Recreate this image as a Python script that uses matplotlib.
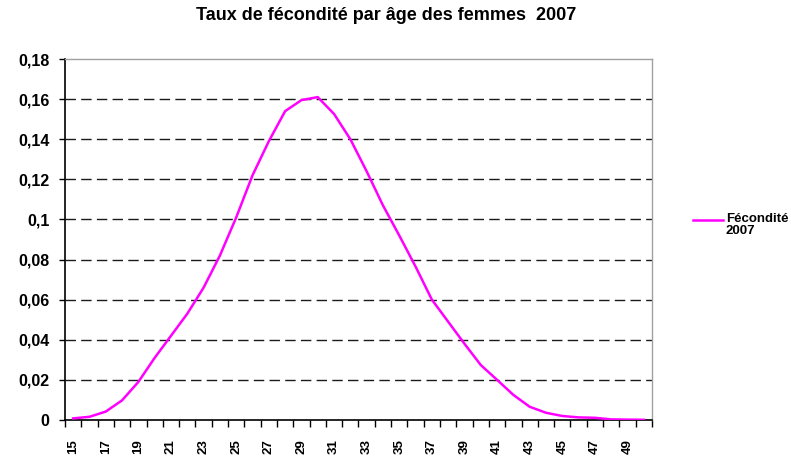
import matplotlib
matplotlib.use("Agg")
import matplotlib.pyplot as plt
import numpy as np

ages = list(range(15, 51))
fecondite_2007 = [0.0008, 0.0016, 0.0042, 0.0098, 0.019, 0.031, 0.042, 0.053,
                  0.066, 0.082, 0.101, 0.122, 0.139, 0.154, 0.1595, 0.161,
                  0.1526, 0.140, 0.124, 0.107, 0.092, 0.0765, 0.060, 0.049,
                  0.038, 0.0274, 0.020, 0.0125, 0.0066, 0.0036, 0.002, 0.0013,
                  0.0011, 0.0003, 0.0002, 0.0001]
y_ticks = [0, 0.02, 0.04, 0.06, 0.08, 0.1, 0.12, 0.14, 0.16, 0.18]
y_labels = ["0", "0,02", "0,04", "0,06", "0,08", "0,1", "0,12", "0,14", "0,16", "0,18"]
title = "Taux de fécondité par âge des femmes  2007"
legend_label = "Fécondité\n2007"

plt.rcParams["font.family"] = ["Liberation Sans", "DejaVu Sans"]
plt.rcParams["font.weight"] = "bold"

fig = plt.figure(figsize=(7.91, 4.58), dpi=100)
W, H = 791, 458
ax = fig.add_axes([65 / W, (H - 420) / H, 587 / W, 361 / H])

n = len(ages)
xpos = np.arange(n)
ax.plot(xpos, fecondite_2007, color="#FF00FF", lw=1.8,
        solid_joinstyle="round", zorder=3)

ax.set_xlim(-0.5, n - 0.5)
ax.set_ylim(0, 0.18)

# dashed horizontal grid
for v in y_ticks[1:-1]:
    ax.axhline(v, color="#1a1a1a", lw=1.0, dashes=(7.5, 3.8), zorder=1)

ax.set_yticks(y_ticks)
ax.set_yticklabels(y_labels, fontsize=11.5, fontweight="bold")
ax.tick_params(axis="y", direction="out", length=4, width=1, color="black", pad=7)

# labels at category centres, tick marks at category boundaries
ax.set_xticks(xpos[::2])
ax.set_xticklabels([str(a) for a in ages[::2]], rotation=90, fontsize=9.5,
                   fontweight="bold")
ax.set_xticks(np.arange(-0.5, n, 1.0), minor=True)
ax.tick_params(axis="x", which="major", length=0, pad=13.5)
ax.tick_params(axis="x", which="minor", direction="out", length=5, width=1,
               color="black")

for s in ("left", "bottom"):
    ax.spines[s].set_color("black")
    ax.spines[s].set_linewidth(1.2)
for s in ("top", "right"):
    ax.spines[s].set_color("#a0a0a0")
    ax.spines[s].set_linewidth(1.0)

fig.text(386 / W, 1 - 15 / H, title, ha="center", va="center",
         fontsize=13, fontweight="bold")

# legend entry
fig.add_artist(plt.Line2D([693 / W, 723 / W], [1 - 220 / H, 1 - 220 / H],
                          color="#FF00FF", lw=1.8, transform=fig.transFigure))
fig.text(726 / W, 1 - 213 / H, legend_label, ha="left", va="top",
         fontsize=9.5, fontweight="bold", linespacing=0.95)

fig.savefig("out.png", dpi=100)
